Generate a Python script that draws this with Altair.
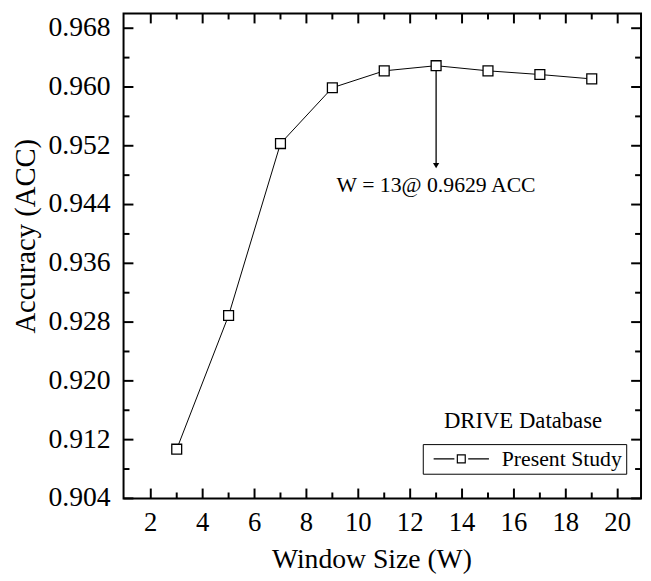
import altair as alt
import pandas as pd

# ---- data ----
window_size = [3, 5, 7, 9, 11, 13, 15, 17, 19]
accuracy = [0.9107, 0.9289, 0.9523, 0.9599, 0.9622, 0.9629, 0.9622, 0.9617, 0.9611]
series_name = ["Present Study"] * len(window_size)

x_major = [2, 4, 6, 8, 10, 12, 14, 16, 18, 20]
x_minor = [3, 5, 7, 9, 11, 13, 15, 17, 19]
y_major = [0.904, 0.912, 0.920, 0.928, 0.936, 0.944, 0.952, 0.960, 0.968]
y_minor = [0.908, 0.916, 0.924, 0.932, 0.940, 0.948, 0.956, 0.964]

ann_text = ["W = 13@ 0.9629 ACC"]
ann_x = [13.0]
ann_y = [0.9466]
arrow_x = [13.0]
arrow_y_start = [0.9623]
arrow_y_end = [0.9493]
db_text = ["DRIVE Database"]
db_x = [16.35]
db_y = [0.9145]

W, H = 524, 491
SERIF = "Liberation Serif"

xscale = alt.Scale(domain=[0.95, 20.9], nice=False, zero=False)
yscale = alt.Scale(domain=[0.904, 0.970], nice=False, zero=False)

df = pd.DataFrame({"w": window_size, "acc": accuracy, "series": series_name})

x_axis = alt.Axis(values=x_major, domain=False, ticks=False, tickSize=0, grid=False,
                  labels=False,
                  title="Window Size (W)", titleFont=SERIF, titleFontSize=28,
                  titleFontWeight="normal", titleColor="black",
                  titleBaseline="alphabetic", titleX=251, titleY=70)
y_axis = alt.Axis(values=y_major, domain=False, ticks=False, tickSize=0, grid=False,
                  labels=False,
                  title="Accuracy (ACC)", titleFont=SERIF, titleFontSize=29,
                  titleFontWeight="normal", titleColor="black",
                  titleAngle=-90, titleAlign="center", titleBaseline="alphabetic",
                  titleX=-90, titleY=225)

line = alt.Chart(df).mark_line(color="black", strokeWidth=1).encode(
    x=alt.X("w:Q", scale=xscale, axis=x_axis),
    y=alt.Y("acc:Q", scale=yscale, axis=y_axis),
)

legend = alt.Legend(orient="none", legendX=303, legendY=436, title=None,
                    strokeColor="black", padding=4,
                    labelFont=SERIF, labelFontSize=22, labelColor="black",
                    symbolType="M-7,0H-1.75M1.75,0H7M-1,-1H1V1H-1Z",
                    symbolSize=64, symbolStrokeWidth=1.2, symbolOffset=24,
                    labelOffset=30, symbolFillColor="white", symbolStrokeColor="black")

points = alt.Chart(df).mark_point(shape="square", size=100, filled=True,
                                  fill="white", strokeWidth=1.3, opacity=1).encode(
    x=alt.X("w:Q", scale=xscale, axis=x_axis),
    y=alt.Y("acc:Q", scale=yscale, axis=y_axis),
    stroke=alt.Stroke("series:N", scale=alt.Scale(range=["black"]), legend=legend),
)

# ---- inward ticks on all four sides ----
def yticks(vals, length, side):
    d = pd.DataFrame({"v": vals})
    if side == "left":
        xa, xb = 0, length
    else:
        xa, xb = W, W - length
    return alt.Chart(d).mark_rule(color="black", strokeWidth=2).encode(
        y=alt.Y("v:Q", scale=yscale, axis=y_axis),
        x=alt.value(xa), x2=alt.value(xb))

def xticks(vals, length, side):
    d = pd.DataFrame({"v": vals})
    if side == "bottom":
        ya, yb = H, H - length
    else:
        ya, yb = 0, length
    return alt.Chart(d).mark_rule(color="black", strokeWidth=2).encode(
        x=alt.X("v:Q", scale=xscale, axis=x_axis),
        y=alt.value(ya), y2=alt.value(yb))

tick_layers = [
    yticks(y_major, 10, "left"), yticks(y_minor, 6, "left"),
    yticks(y_major, 10, "right"), yticks(y_minor, 6, "right"),
    xticks(x_major, 10, "bottom"), xticks(x_minor, 6, "bottom"),
    xticks(x_major, 10, "top"), xticks(x_minor, 6, "top"),
]

# ---- tick labels (serif) ----
ylab = alt.Chart(pd.DataFrame({"v": y_major})).mark_text(
    font=SERIF, fontSize=28, color="black", align="right", baseline="middle"
).encode(
    y=alt.Y("v:Q", scale=yscale, axis=y_axis),
    x=alt.value(-13),
    text=alt.Text("v:Q", format=".3f"))
xlab = alt.Chart(pd.DataFrame({"v": x_major})).mark_text(
    font=SERIF, fontSize=27, color="black", align="center", baseline="top"
).encode(
    x=alt.X("v:Q", scale=xscale, axis=x_axis),
    y=alt.value(H + 12),
    text=alt.Text("v:Q", format="d"))

# ---- annotation ----
adf = pd.DataFrame({"x": arrow_x, "y1": arrow_y_start, "y2": arrow_y_end})
arrow = alt.Chart(adf).mark_rule(color="black", strokeWidth=1.3).encode(
    x=alt.X("x:Q", scale=xscale, axis=x_axis),
    y=alt.Y("y1:Q", scale=yscale, axis=y_axis),
    y2="y2:Q")
head = alt.Chart(adf).mark_point(shape="triangle-down", size=40, filled=True,
                                 color="black", opacity=1).encode(
    x=alt.X("x:Q", scale=xscale, axis=x_axis),
    y=alt.Y("y2:Q", scale=yscale, axis=y_axis))

tdf = pd.DataFrame({"x": ann_x, "y": ann_y, "t": ann_text})
ann = alt.Chart(tdf).mark_text(font=SERIF, fontSize=22, color="black",
                               align="center", baseline="middle").encode(
    x=alt.X("x:Q", scale=xscale, axis=x_axis),
    y=alt.Y("y:Q", scale=yscale, axis=y_axis),
    text="t:N")

ddf = pd.DataFrame({"x": db_x, "y": db_y, "t": db_text})
db = alt.Chart(ddf).mark_text(font=SERIF, fontSize=23, color="black",
                              align="center", baseline="middle").encode(
    x=alt.X("x:Q", scale=xscale, axis=x_axis),
    y=alt.Y("y:Q", scale=yscale, axis=y_axis),
    text="t:N")

chart = alt.layer(line, *tick_layers, ylab, xlab, arrow, head, points, ann, db).properties(
    width=W, height=H,
    autosize=alt.AutoSizeParams(type="none"),
    padding={"left": 117, "top": 2, "right": 2, "bottom": 78},
    background="white",
).configure(
    font=SERIF
).configure_view(
    stroke="black", strokeWidth=2
)

chart.save("out.html", embed_options={"renderer": "svg", "actions": False})
